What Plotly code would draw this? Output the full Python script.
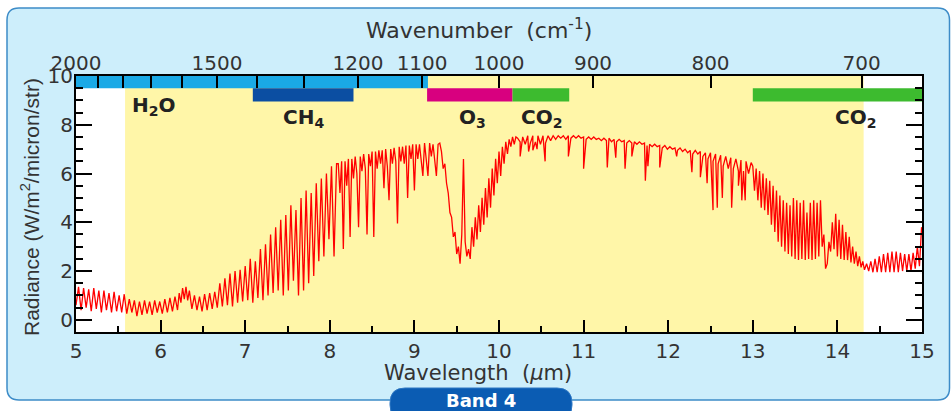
import numpy as np
import plotly.graph_objects as go

# ---------------- data ----------------
# spectrum segments: start wavelength (um), step (um), radiance values (W/m2/micron/str)
seg_a_start, seg_a_step = 5.00, 0.03
seg_a = [0.6, 1.35, 0.4, 1.3, 0.5, 1.25, 0.35, 1.3, 0.45, 1.2, 0.3, 1.2, 0.4, 1.1, 0.3,
         1.15, 0.35, 1.0, 0.3, 1.05, 0.25]
seg_b_start, seg_b_step = 5.63, 0.03
seg_b = [0.85, 0.3, 0.8, 0.15, 0.75, 0.2, 0.8, 0.25, 0.75, 0.2, 0.8, 0.3, 0.75, 0.25,
         0.85, 0.3, 0.9, 0.35, 0.95, 0.4]
seg_c_start, seg_c_step = 6.22, 0.02
seg_c = [1.1, 0.7, 1.3, 0.85, 1.35, 0.8, 1.2]
seg_d_start, seg_d_step = 6.37, 0.03
seg_d = [0.45, 1.0, 0.4, 0.95, 0.35, 1.05, 0.4, 1.1, 0.45, 1.15, 0.5, 1.5, 0.55, 1.7,
         0.6, 1.9, 0.55, 2.0, 0.7, 2.05, 0.75, 2.2, 0.8, 2.5, 0.7, 2.4, 0.9, 2.9, 0.8,
         3.1, 1.0, 3.5, 1.1, 3.8, 1.2, 4.1, 1.0, 4.3, 1.2, 4.7, 1.6, 4.5, 1.0, 5.0, 1.2,
         5.3, 1.5, 5.2, 1.8, 5.6, 2.4, 5.8, 2.6, 6.0, 3.3, 6.3, 2.6, 6.4]
seg_e_start, seg_e_step = 8.10, 0.02
seg_e = [6.4, 5.2, 6.5, 2.9, 6.5, 5.5, 6.6, 3.4, 6.6, 5.8, 6.7, 6.0, 3.8, 6.7, 6.1, 6.8,
         6.2, 3.5, 6.8, 6.3, 6.9, 3.4, 6.9, 6.2, 6.95, 6.4, 6.95, 5.4, 7.0, 6.3, 4.9, 7.0,
         6.4, 7.05, 6.5, 3.95, 7.1, 6.5, 7.1, 6.4, 7.15, 5.0, 7.15, 6.6, 7.2, 5.3, 7.2,
         6.6, 7.2, 6.5, 5.9, 7.25, 6.6, 5.9, 7.25, 6.7, 7.2, 6.5, 5.9, 7.2, 7.25]
seg_f_start, seg_f_step = 9.32, 0.02
seg_f = [6.9, 6.2, 6.4, 5.6, 5.2, 4.4, 4.2, 3.4, 3.6, 2.7, 3.0, 2.3, 3.5, 6.6, 3.2, 2.6,
         2.9, 2.5, 3.8, 3.0, 4.2, 3.3, 4.7, 3.6, 5.0, 3.9, 5.4, 4.2, 5.8, 4.6, 6.2, 5.1,
         6.6, 5.6, 6.9, 5.9, 7.1, 6.4, 7.3, 6.8, 7.4, 7.1, 7.5, 7.2, 7.5]
seg_g_start, seg_g_step = 10.22, 0.03
seg_g = [7.45, 7.3, 7.5, 7.2, 7.55, 7.25, 7.55, 7.3, 7.55, 7.2, 7.55, 7.25, 7.55, 7.35,
         7.55, 7.4, 7.55, 7.45, 7.55, 7.4, 7.55, 7.45, 7.55, 7.45, 7.55, 7.45, 7.5, 7.4,
         7.5, 7.4, 7.5, 7.4, 7.45, 7.35, 7.45, 7.35, 7.45, 7.3, 7.4, 7.3, 7.4, 7.3, 7.35,
         7.25, 7.35, 7.25, 7.3, 7.2, 7.3, 7.2, 7.25, 7.15, 7.2, 7.1, 7.2, 7.1, 7.15, 7.05,
         7.15, 7.0, 7.1, 7.0, 7.05, 6.95, 7.05, 6.9, 7.0, 6.85, 6.95, 6.8, 6.95, 6.8, 6.9,
         6.7, 6.85, 6.6, 6.85, 6.5, 6.8, 6.4, 6.75, 6.3, 6.7, 6.2, 6.65, 6.2, 6.6, 6.1,
         6.55, 6.1, 6.5, 6.0, 6.45]
seg_h_start, seg_h_step = 13.00, 0.02
seg_h = [6.3, 5.3, 6.2, 4.9, 6.1, 4.6, 6.0, 4.5, 5.8, 4.3, 5.7, 3.9, 5.5, 3.6, 5.3, 3.2,
         5.1, 3.0, 4.9, 2.8, 4.8, 2.7, 4.7, 2.6, 5.0, 2.5, 4.9, 2.45, 4.8, 2.5, 4.9, 2.45,
         4.4, 2.5, 4.8, 2.45, 4.9, 2.5, 4.8, 2.6, 4.9, 3.0, 3.5, 2.1, 2.3, 3.2, 2.8, 4.0,
         2.9, 4.35, 2.6, 4.1, 2.5, 3.9, 2.45, 3.6, 2.45, 3.4, 2.35, 3.0, 2.3, 2.8, 2.2,
         2.6, 2.15, 2.4]
seg_i_start, seg_i_step = 14.32, 0.025
seg_i = [2.05, 2.3, 2.0, 2.4, 1.95, 2.5, 1.95, 2.6, 1.95, 2.7, 1.95, 2.75, 1.95, 2.8,
         1.95, 2.8, 1.95, 2.75, 2.0, 2.7, 2.0, 2.7, 2.0, 2.75, 2.1, 3.0, 2.2, 3.8]

# narrow absorption lines (wavelength, radiance at line bottom)
line_wl = [10.25, 10.35, 10.40, 10.45, 10.545, 10.82, 11.00, 11.28, 11.38, 11.49, 11.57,
           11.73, 11.76, 11.90, 12.10, 12.28, 12.38, 12.46, 12.53, 12.58, 12.64, 12.75,
           12.83, 12.87, 12.91]
line_rad = [6.7, 6.9, 6.95, 7.0, 6.5, 6.7, 6.2, 6.25, 6.65, 6.2, 6.7, 5.7, 6.3, 6.25, 6.7,
            6.05, 5.85, 5.6, 4.5, 4.6, 5.0, 4.6, 5.5, 4.9, 4.9]

# window / absorber bands (um)
window_range = [5.58, 14.31]
h2o_band = [5.0, 9.16]
ch4_band = [7.09, 8.28]
o3_band = [9.15, 10.16]
co2_band_a = [10.16, 10.83]
co2_band_b = [13.0, 15.0]

# axis ticks
wl_ticks = list(range(5, 16))
rad_ticks = [0, 2, 4, 6, 8, 10]
wn_major = [2000, 1500, 1200, 1100, 1000, 900, 800, 700]
wn_labels = ["2000", "1500", "1200", "1100", "1000", "900", "800", "700"]
wn_minor = [1900, 1800, 1700, 1600, 1400, 1300]

# ---------------- build spectrum ----------------
segments = [(seg_a_start, seg_a_step, seg_a), (seg_b_start, seg_b_step, seg_b),
            (seg_c_start, seg_c_step, seg_c), (seg_d_start, seg_d_step, seg_d),
            (seg_e_start, seg_e_step, seg_e), (seg_f_start, seg_f_step, seg_f),
            (seg_g_start, seg_g_step, seg_g), (seg_h_start, seg_h_step, seg_h),
            (seg_i_start, seg_i_step, seg_i)]
wl, rad = [], []
for s, st, vals in segments:
    wl += [s + st * i for i in range(len(vals))]
    rad += vals
wl += line_wl
rad += line_rad
order = np.argsort(wl, kind="stable")
wl = np.array(wl)[order]
rad = np.array(rad)[order]

# ---------------- figure ----------------
W, H = 951, 411
L, R, T, B = 76, 29, 76, 79
PW, PH = W - L - R, H - T - B


def px(x):
    return (x - L) / PW


def py(y):
    return (H - B - y) / PH


FONT = "DejaVu Sans, Verdana, sans-serif"
FONT_V = "Liberation Sans, Arial, sans-serif"
TXT = "#333333"

fig = go.Figure()
fig.add_trace(go.Scatter(x=wl, y=rad, mode="lines", line=dict(color="#ff0000", width=1.3),
                         showlegend=False, hoverinfo="skip"))
# companion trace for the top (wavenumber) axis
fig.add_trace(go.Scatter(x=[5, 15], y=[None, None], xaxis="x2", mode="lines",
                         showlegend=False, hoverinfo="skip"))

shapes = []


def rounded_path(x0, y0, x1, y1, r):
    pts = [("M", (x0 + r, y0)), ("L", (x1 - r, y0)), ("Q", (x1, y0), (x1, y0 + r)),
           ("L", (x1, y1 - r)), ("Q", (x1, y1), (x1 - r, y1)), ("L", (x0 + r, y1)),
           ("Q", (x0, y1), (x0, y1 - r)), ("L", (x0, y0 + r)), ("Q", (x0, y0), (x0 + r, y0))]
    out = []
    for p in pts:
        coords = " ".join(f"{px(a):.5f},{py(b):.5f}" for a, b in p[1:])
        out.append(f"{p[0]} {coords}")
    return " ".join(out) + " Z"


# outer light-blue panel
shapes.append(dict(type="path", xref="paper", yref="paper", layer="below",
                   path=rounded_path(7, 8, 949.5, 400, 12),
                   fillcolor="#cdeefb", line=dict(color="#3d8cc8", width=1.5)))
# white plot area
shapes.append(dict(type="rect", xref="paper", yref="paper", layer="below",
                   x0=0, x1=1, y0=0, y1=1, fillcolor="white", line=dict(width=0)))
# band pill
shapes.append(dict(type="path", xref="paper", yref="paper", layer="above",
                   path=rounded_path(390, 388, 572, 420, 15),
                   fillcolor="#0b5cb3", line=dict(color="#2f78c4", width=1)))
# yellow window
shapes.append(dict(type="rect", xref="x", yref="paper", layer="below",
                   x0=window_range[0], x1=window_range[1], y0=0, y1=1,
                   fillcolor="#fff6a8", line=dict(width=0)))
# absorber bars
for rng, y0, y1, col in [(h2o_band, 9.5, 10.0, "#1aa9e6"),
                         (ch4_band, 8.95, 9.5, "#0b4ea2"),
                         (o3_band, 8.95, 9.5, "#d8007f"),
                         (co2_band_a, 8.95, 9.5, "#3dbb2f"),
                         (co2_band_b, 8.95, 9.5, "#3dbb2f")]:
    shapes.append(dict(type="rect", xref="x", yref="y", layer="below",
                       x0=rng[0], x1=rng[1], y0=y0, y1=y1, fillcolor=col, line=dict(width=0)))

ann = []


def add_text(text, x, y, size, color=TXT, bold=False, angle=0, family=FONT):
    ann.append(dict(text=f"<b>{text}</b>" if bold else text, x=px(x), y=py(y),
                    xref="paper", yref="paper", xanchor="center", yanchor="middle",
                    showarrow=False, textangle=angle,
                    font=dict(family=family, size=size, color=color)))


add_text("Wavenumber  (cm<sup>-1</sup>)", 479, 29, 22)
add_text("Wavelength  (<i>μ</i>m)", 478, 373, 21)
add_text("Radiance (W/m<sup>2</sup>/micron/str)", 30, 207, 21, angle=-90, family=FONT_V)
add_text("H<sub>2</sub>O", 154, 106, 20, color="#222222", bold=True)
add_text("CH<sub>4</sub>", 303, 118, 20, color="#222222", bold=True)
add_text("O<sub>3</sub>", 472, 118, 20, color="#222222", bold=True)
add_text("CO<sub>2</sub>", 541, 118, 20, color="#222222", bold=True)
add_text("CO<sub>2</sub>", 855, 118, 20, color="#222222", bold=True)
add_text("Band 4", 481, 400, 18, color="white", bold=True)

axis_common = dict(showgrid=False, zeroline=False, showline=True, linecolor="black",
                   linewidth=2, ticks="inside", tickcolor="black", tickwidth=2,
                   tickfont=dict(family=FONT, size=20, color=TXT))

fig.update_layout(
    width=W, height=H, margin=dict(l=L, r=R, t=T, b=B, autoexpand=False),
    paper_bgcolor="white", plot_bgcolor="rgba(0,0,0,0)",
    font=dict(family=FONT, color=TXT),
    shapes=shapes, annotations=ann, showlegend=False,
    xaxis=dict(range=[5, 15], tickvals=wl_ticks, ticklen=12, mirror=False,
               minor=dict(dtick=0.5, tick0=5, ticklen=6, ticks="inside", tickwidth=2,
                          tickcolor="black"),
               **axis_common),
    xaxis2=dict(range=[5, 15], overlaying="x", side="top", anchor="y",
                tickvals=[10000 / w for w in wn_major], ticktext=wn_labels, ticklen=12,
                ticklabelstandoff=-4,
                minor=dict(tickvals=[10000 / w for w in wn_minor], ticklen=12,
                           ticks="inside", tickwidth=2, tickcolor="black"),
                **axis_common),
    yaxis=dict(range=[-0.5, 10], tickvals=rad_ticks, ticklen=16, mirror="ticks",
               ticklabelstandoff=-3,
               minor=dict(dtick=0.5, tick0=0, ticklen=7, ticks="inside", tickwidth=2,
                          tickcolor="black"),
               **axis_common),
)

fig.write_html("out.html", config={"displayModeBar": False},
               post_script="document.body.style.margin='0';"
                           "document.body.style.overflow='hidden';")
